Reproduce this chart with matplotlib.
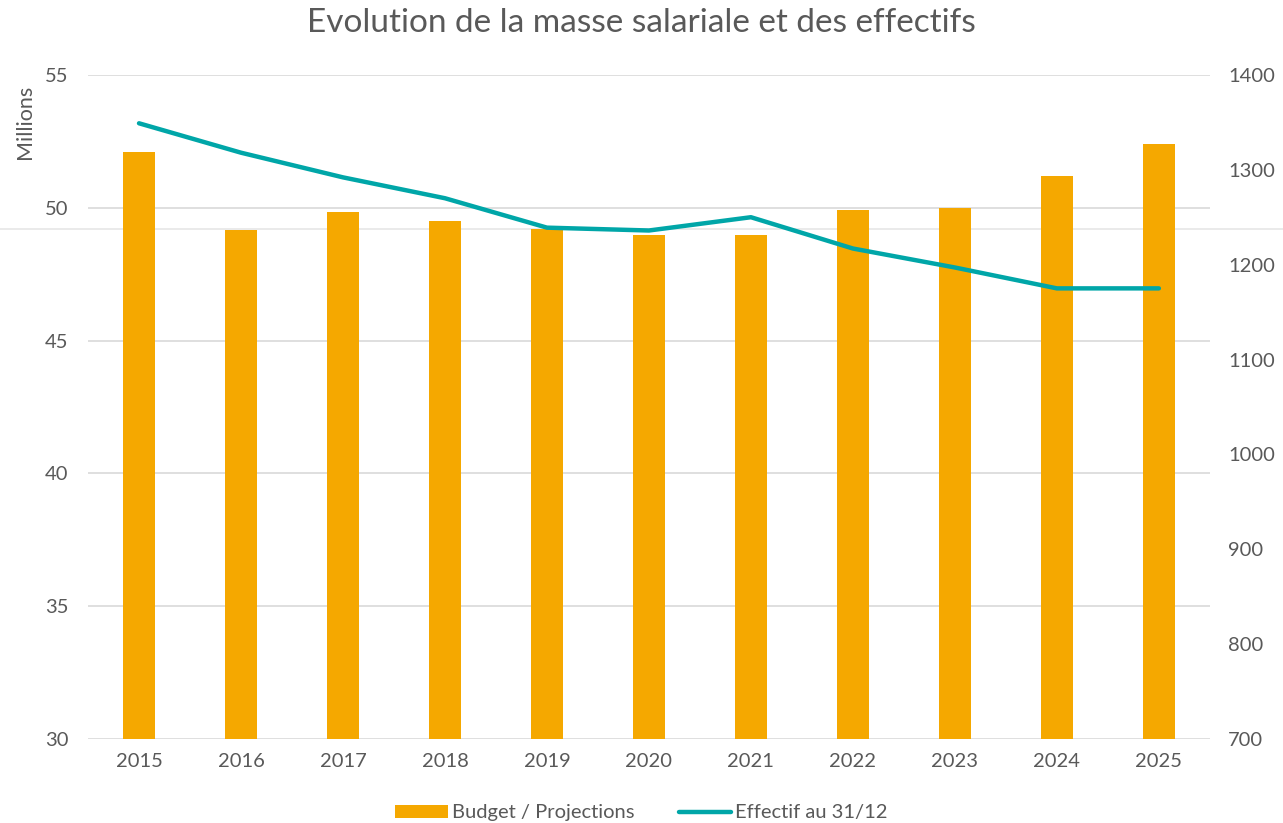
import matplotlib
matplotlib.use("Agg")
import matplotlib.pyplot as plt
from matplotlib.lines import Line2D

years = ["2015", "2016", "2017", "2018", "2019", "2020", "2021", "2022", "2023", "2024", "2025"]
budget = [52.10, 49.16, 49.84, 49.50, 49.20, 48.98, 48.98, 49.92, 49.99, 51.20, 52.38]
effectif = [1349, 1318, 1292, 1270, 1239, 1236, 1250, 1217, 1197, 1175, 1175]

ORANGE = "#F5A800"
TEAL = "#00A6A8"
GREY = "#595959"
GRID = "#D9D9D9"

plt.rcParams["font.family"] = ["Lato", "DejaVu Sans"]

fig = plt.figure(figsize=(12.83, 8.23), dpi=100, facecolor="white")
ax = fig.add_axes([0.0686, 0.102, 0.8744, 0.807])
ax.patch.set_visible(False)
ax2 = ax.twinx()

x = range(len(years))
bars = ax.bar(x, budget, width=0.31, color=ORANGE, zorder=2, label="Budget / Projections")
line, = ax2.plot(x, effectif, color=TEAL, lw=3.2, solid_capstyle="round",
                 label="Effectif au 31/12", zorder=3)

ax.set_ylim(30, 55)
ax.set_yticks([30, 35, 40, 45, 50, 55])
ax2.set_ylim(700, 1400)
ax2.set_yticks(range(700, 1401, 100))
ax.set_xlim(-0.5, 10.5)
ax.set_xticks(list(x))
ax.set_xticklabels(years)

ax.grid(axis="y", color=GRID, lw=1.2, zorder=0)
ax.set_axisbelow(True)
for a in (ax, ax2):
    for s in a.spines.values():
        s.set_visible(False)
    a.tick_params(length=0, colors=GREY, labelsize=14.5)
ax.tick_params(axis="y", pad=14)
ax.tick_params(axis="x", pad=10)
ax2.tick_params(axis="y", pad=13)

ax.set_ylabel("Millions", color=GREY, fontsize=15.5)
ax.yaxis.set_label_coords(-0.047, 0.93)

fig.suptitle("Evolution de la masse salariale et des effectifs", color=GREY,
             fontsize=24, y=0.99)

fig.legend(handles=[bars, line], loc="lower center", ncol=2, frameon=False,
           fontsize=14.5, labelcolor=GREY, bbox_to_anchor=(0.5, -0.02),
           handlelength=2.6, handleheight=0.6, handletextpad=0.2, columnspacing=2.2)

# stray separator line visible in the original, sitting behind the bars
fig.add_artist(Line2D([0, 1], [1 - 229 / 823, 1 - 229 / 823], color="#E6E6E6",
                      lw=1.2, zorder=-1))

fig.savefig("out.png", dpi=100)
